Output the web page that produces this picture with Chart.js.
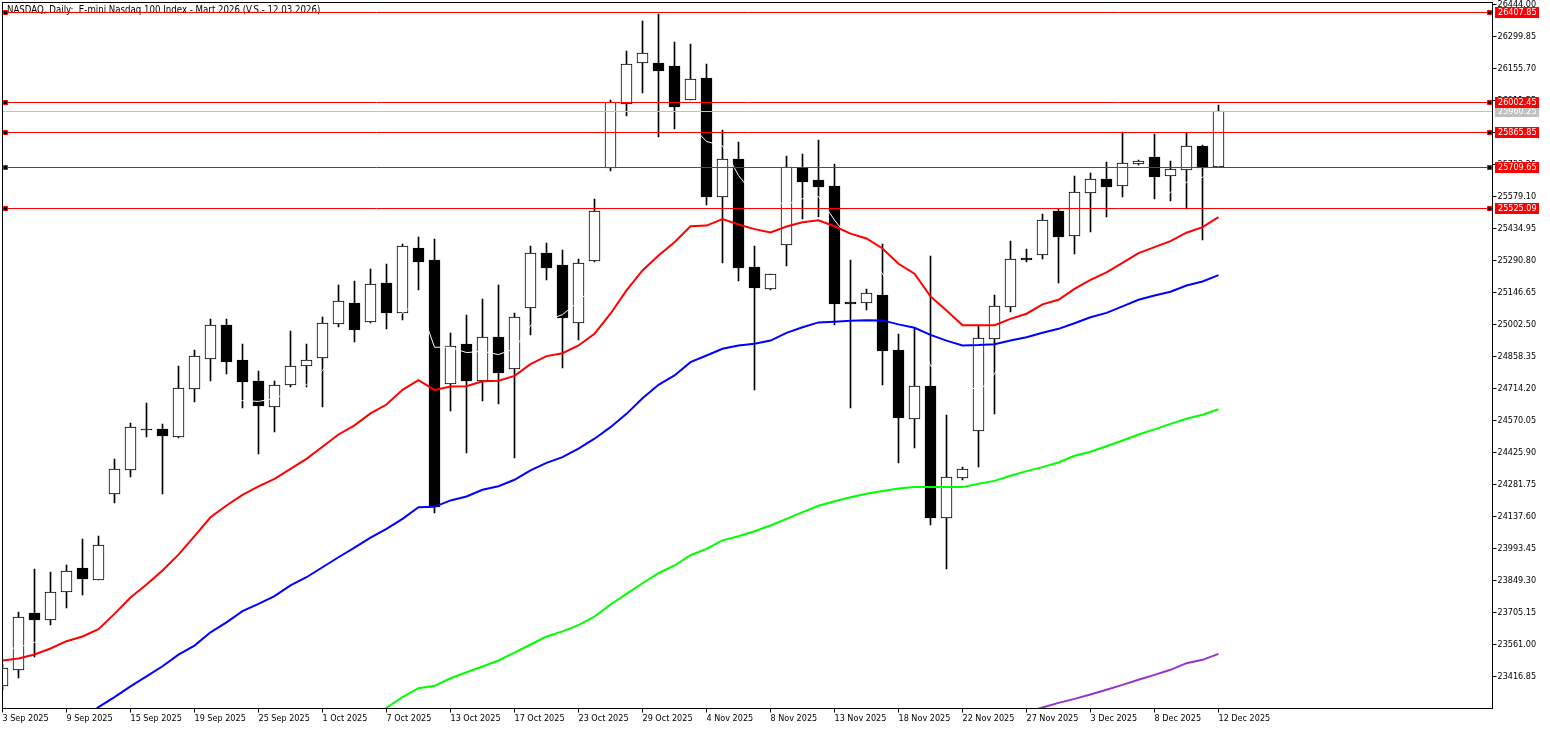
<!DOCTYPE html>
<html lang="tr">
<head>
    <meta charset="UTF-8">
    <title>NASDAQ, Daily</title>
    <style>
        html, body { margin: 0; padding: 0; background: #fff; }
        canvas { display: block; }
    </style>
</head>
<body>
    <canvas id="myChart" width="1550" height="729"></canvas>

    <script src="https://cdn.jsdelivr.net/npm/chart.js"></script>
    <script>
        const chartTitle = 'NASDAQ, Daily:  E-mini Nasdaq 100 Index - Mart 2026 (V.S.- 12.03.2026)';

        // one label every 4 bars
        const dateLabels = ['3 Sep 2025', '9 Sep 2025', '15 Sep 2025', '19 Sep 2025', '25 Sep 2025', '1 Oct 2025', '7 Oct 2025',
            '13 Oct 2025', '17 Oct 2025', '23 Oct 2025', '29 Oct 2025', '4 Nov 2025', '8 Nov 2025', '13 Nov 2025', '18 Nov 2025',
            '22 Nov 2025', '27 Nov 2025', '3 Dec 2025', '8 Dec 2025', '12 Dec 2025'];
        const priceTicks = [26444.00, 26299.85, 26155.70, 26011.55, 25867.40, 25723.25, 25579.10, 25434.95, 25290.80, 25146.65,
            25002.50, 24858.35, 24714.20, 24570.05, 24425.90, 24281.75, 24137.60, 23993.45, 23849.30, 23705.15, 23561.00, 23416.85];

        const redLevels = [26407.85, 26002.45, 25865.85, 25709.65, 25525.09];
        const grayLevel = 25960.25;

        const opens = [23373, 23447, 23699, 23670, 23797, 23902, 23851, 24238, 24346, 24529, 24530, 24495, 24713, 24846, 24998, 24840,
            24746, 24630, 24729, 24815, 24852, 25004, 25097, 25013, 25187, 25053, 25345, 25291, 24734, 24912, 24750, 24944, 24801,
            25076, 25322, 25268, 25008, 25289, 25708, 25997, 26181, 26178, 26165, 26015, 26111, 25576, 25746, 25259, 25161, 25362,
            25706, 25651, 25624, 25102, 25100, 25133, 24885, 24576, 24723, 24130, 24310, 24524, 24936, 25082, 25300, 25315, 25511,
            25400, 25594, 25656, 25625, 25725, 25755, 25671, 25699, 25804, 25710];
        const highs = [23471, 23705, 23899, 23885, 23917, 24034, 24048, 24394, 24557, 24647, 24552, 24813, 24885, 25025, 25025, 24912,
            24791, 24746, 24971, 24912, 25034, 25178, 25196, 25250, 25273, 25363, 25394, 25385, 24962, 25043, 25115, 25178, 25052,
            25354, 25367, 25336, 25295, 25566, 26012, 26232, 26367, 26399, 26273, 26264, 26174, 25876, 25822, 25354, 25228, 25759,
            25768, 25831, 25723, 25291, 25160, 25363, 24957, 24985, 25309, 24593, 24358, 24994, 25133, 25376, 25340, 25498, 25521,
            25669, 25683, 25732, 25867, 25741, 25858, 25737, 25864, 25809, 25989];
        const lows = [23354, 23409, 23504, 23648, 23725, 23783, 23851, 24198, 24315, 24495, 24238, 24490, 24653, 24747, 24779, 24626,
            24418, 24517, 24720, 24720, 24630, 24989, 24923, 25007, 24981, 25021, 25156, 24153, 24615, 24423, 24660, 24643, 24403,
            24954, 25202, 24806, 24932, 25283, 25696, 25940, 26045, 25849, 25885, 26015, 25543, 25279, 25198, 24708, 25156, 25265,
            25476, 25485, 24999, 24626, 25070, 24728, 24378, 24445, 24098, 23900, 24300, 24360, 24598, 25058, 25283, 25297, 25189,
            25322, 25417, 25485, 25575, 25722, 25566, 25558, 25525, 25381, 25710];
        const closes = [23451, 23681, 23670, 23794, 23888, 23855, 24006, 24348, 24537, 24526, 24499, 24713, 24857, 24997, 24833, 24743,
            24634, 24726, 24812, 24839, 25006, 25105, 24977, 25181, 25053, 25352, 25282, 24179, 24903, 24750, 24944, 24786, 25034,
            25321, 25259, 25034, 25276, 25511, 26002, 26172, 26222, 26144, 25981, 26105, 25576, 25744, 25256, 25166, 25228, 25709,
            25643, 25621, 25094, 25094, 25141, 24882, 24580, 24722, 24130, 24312, 24348, 24938, 25082, 25294, 25292, 25470, 25396,
            25596, 25654, 25624, 25726, 25735, 25665, 25699, 25803, 25709, 25960];

        const redMa = [23489, 23498, 23516, 23543, 23576, 23597, 23630, 23699, 23773, 23831, 23894, 23966, 24049, 24134, 24187, 24235,
            24273, 24307, 24352, 24397, 24452, 24507, 24548, 24602, 24642, 24708, 24752, 24708, 24723, 24724, 24747, 24749, 24771,
            24824, 24860, 24873, 24908, 24961, 25051, 25156, 25246, 25313, 25373, 25445, 25448, 25477, 25453, 25432, 25417, 25444,
            25463, 25472, 25445, 25412, 25390, 25345, 25276, 25231, 25129, 25066, 24999, 24999, 24999, 25028, 25051, 25093, 25114,
            25163, 25204, 25237, 25280, 25324, 25351, 25378, 25416, 25441, 25486];
        const blueMa = [null, null, null, null, null, 23219, 23279, 23324, 23372, 23417, 23463, 23515, 23556, 23616, 23661, 23711,
            23744, 23779, 23827, 23864, 23909, 23954, 23997, 24042, 24082, 24127, 24179, 24181, 24210, 24228, 24258, 24274, 24303,
            24345, 24379, 24405, 24443, 24488, 24540, 24600, 24670, 24731, 24773, 24833, 24863, 24893, 24908, 24916, 24930, 24965,
            24990, 25012, 25015, 25019, 25022, 25021, 25003, 24988, 24956, 24930, 24908, 24910, 24914, 24930, 24945, 24965, 24983,
            25008, 25035, 25055, 25084, 25114, 25133, 25150, 25178, 25196, 25225];
        const greenMa = [null, null, null, null, null, null, null, null, null, null, null, null, null, null, null, null, null, null,
            null, null, null, null, null, 23232, 23276, 23324, 23364, 23375, 23409, 23436, 23462, 23489, 23524, 23561, 23597, 23620,
            23648, 23687, 23741, 23789, 23837, 23882, 23917, 23963, 23992, 24030, 24049, 24071, 24097, 24127, 24157, 24186, 24206,
            24224, 24240, 24252, 24264, 24270, 24270, 24270, 24270, 24285, 24298, 24321, 24342, 24360, 24381, 24411, 24429, 24454,
            24480, 24507, 24530, 24555, 24578, 24596, 24621];
        const purpleMa = Array(64).fill(null).concat([23255, 23277, 23298, 23316, 23336, 23357, 23379, 23402, 23424, 23447, 23477, 23492, 23519]);
        // white line, only seen where it crosses the black bodies and the wicks
        const whiteLine = [23534, 23549, 23571, 23588, 23669, 23737, 23804, 23939, 24075, 24165, 24210, 24345, 24480, 24570, 24638, 24660,
            24656, 24669, 24701, 24731, 24795, 24885, 24908, 24975, 24966, 25056, 25106, 24900, 24900, 24876, 24882, 24867, 24894,
            24998, 25021, 25047, 25106, 25178, 25336, 25516, 25674, 25786, 25854, 25903, 25827, 25807, 25674, 25584, 25561, 25543,
            25569, 25579, 25473, 25381, 25336, 25231, 25111, 25021, 24816, 24768, 24750, 24698, 24780, 24930, 24998, 25066, 25156,
            25246, 25336, 25403, 25471, 25538, 25538, 25598, 25643, 25666, 25714];

        const font = { family: '"DejaVu Sans Condensed", "DejaVu Sans", sans-serif', size: 9 };
        const fontCss = font.size + 'px ' + font.family;
        const titleCss = '9.6px ' + font.family;
        const xMax = 93.125;

        const toPoints = values => values.map((v, i) => ({ x: i, y: v }));

        function maLine(values, color, order, width) {
            return { type: 'line', data: toPoints(values), borderColor: color, borderWidth: width, pointRadius: 0, tension: 0, order: order };
        }

        function levelLine(price, color, handles) {
            return {
                type: 'line',
                isLevel: true,
                data: [0, 0.1875, 92.9375, xMax].map(x => ({ x: x, y: price })),
                borderColor: color,
                borderWidth: 1,
                tension: 0,
                order: 1,
                pointStyle: 'rect',
                pointRadius: handles ? [0, 2.83, 2.83, 0] : 0,
                pointBackgroundColor: '#000',
                pointBorderColor: color,
                pointBorderWidth: 1
            };
        }

        const datasets = [
            {
                type: 'bar',
                data: highs.map((h, i) => ({ x: i, y: [lows[i], h] })),
                backgroundColor: '#000',
                borderWidth: 0,
                barThickness: 1,
                grouped: false,
                order: 7
            },
            {
                type: 'bar',
                data: opens.map((o, i) => ({ x: i, y: [o, closes[i]] })),
                backgroundColor: opens.map((o, i) => closes[i] > o ? '#fff' : '#000'),
                borderColor: '#000',
                borderWidth: 1,
                borderSkipped: false,
                barThickness: 11,
                grouped: false,
                order: 6
            },
            maLine(whiteLine, '#fff', 5, 1),
            maLine(purpleMa, '#9932cc', 4, 2),
            maLine(greenMa, '#00ff00', 4, 2),
            maLine(blueMa, '#0000ff', 3, 2),
            maLine(redMa, '#ff0000', 2, 2),
            levelLine(grayLevel, '#c0c0c0', false)
        ].concat(redLevels.map(p => levelLine(p, '#ff0000', true)));

        // the original has hard pixel edges, so snap bars and level lines to whole pixels
        const pixelSnap = {
            id: 'pixelSnap',
            afterDatasetsUpdate(chart) {
                chart.data.datasets.forEach((ds, n) => {
                    const items = chart.getDatasetMeta(n).data;
                    if (ds.type === 'bar') {
                        items.forEach(bar => {
                            const top = Math.floor(Math.min(bar.y, bar.base));
                            const bottom = Math.round(Math.max(bar.y, bar.base));
                            bar.y = top;
                            bar.base = bottom;
                        });
                    } else if (ds.isLevel) {
                        items.forEach(pt => { pt.y = Math.floor(pt.y) + 0.5; });
                    }
                });
            }
        };

        const chartDecor = {
            id: 'chartDecor',
            beforeDatasetsDraw(chart) {
                const ctx = chart.ctx;
                ctx.save();
                ctx.fillStyle = '#000';
                ctx.font = titleCss;
                ctx.textAlign = 'left';
                ctx.textBaseline = 'alphabetic';
                ctx.fillText(chartTitle, 7, 13);
                ctx.restore();
            },
            afterDraw(chart) {
                const ctx = chart.ctx;
                const area = chart.chartArea;
                const yScale = chart.scales.y;
                ctx.save();
                ctx.strokeStyle = '#000';
                ctx.lineWidth = 1;
                ctx.strokeRect(area.left, area.top, area.right - area.left, area.bottom - area.top);

                // price boxes on the right axis
                ctx.font = fontCss;
                ctx.textAlign = 'left';
                ctx.textBaseline = 'middle';
                const boxes = [[grayLevel, '#c0c0c0']].concat(redLevels.map(p => [p, '#ff0000']));
                boxes.forEach(b => {
                    const y = Math.floor(yScale.getPixelForValue(b[0]));
                    ctx.fillStyle = b[1];
                    ctx.fillRect(1495, y - 5, 44, 11);
                    ctx.fillStyle = '#fff';
                    ctx.fillText(b[0].toFixed(2), 1498, y + 1);
                });
                ctx.restore();
            }
        };

        new Chart(document.getElementById('myChart').getContext('2d'), {
            type: 'bar',
            data: { datasets: datasets },
            plugins: [pixelSnap, chartDecor],
            options: {
                responsive: false,
                animation: false,
                layout: { padding: { left: 2.5, top: 2.5, right: 0, bottom: 0 } },
                plugins: { legend: { display: false }, tooltip: { enabled: false } },
                scales: {
                    x: {
                        type: 'linear',
                        min: 0,
                        max: xMax,
                        offset: false,
                        afterFit(scale) {
                            scale.height = 20.5;
                            scale.paddingLeft = 0;
                            scale.paddingRight = 0;
                        },
                        afterBuildTicks(scale) { scale.ticks = dateLabels.map((d, i) => ({ value: i * 4 })); },
                        grid: { offset: false, drawOnChartArea: false, color: '#000', tickLength: 4 },
                        border: { color: '#000' },
                        ticks: {
                            autoSkip: false,
                            maxRotation: 0,
                            align: 'start',
                            padding: 1,
                            color: '#000',
                            font: font,
                            callback: value => dateLabels[value / 4]
                        }
                    },
                    y: {
                        type: 'linear',
                        position: 'right',
                        min: 23272.7,
                        max: 26453.0,
                        afterFit(scale) {
                            scale.width = 57.5;
                            scale.paddingTop = 0;
                            scale.paddingBottom = 0;
                        },
                        afterBuildTicks(scale) { scale.ticks = priceTicks.map(p => ({ value: p })); },
                        grid: { drawOnChartArea: false, color: '#000', tickLength: 4 },
                        border: { color: '#000' },
                        ticks: {
                            autoSkip: false,
                            padding: 1,
                            color: '#000',
                            font: font,
                            callback: value => value.toFixed(2)
                        }
                    }
                }
            }
        });
    </script>
</body>
</html>
